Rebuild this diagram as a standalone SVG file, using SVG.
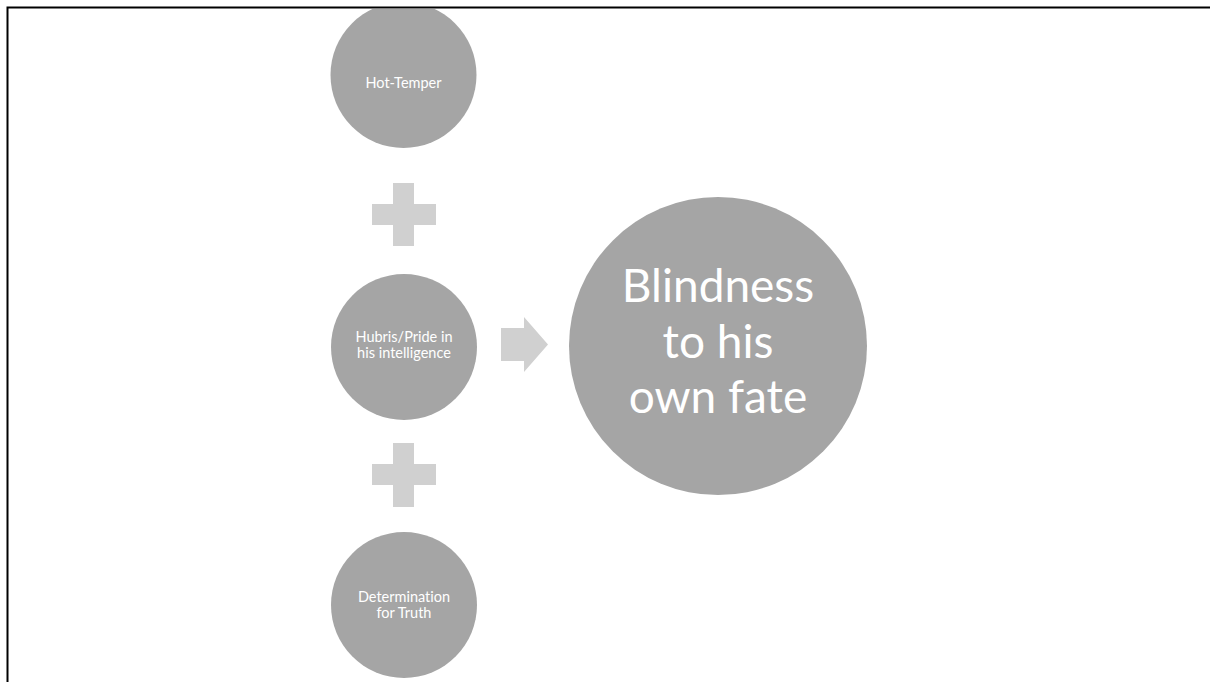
<svg xmlns="http://www.w3.org/2000/svg" width="1210" height="682" viewBox="0 0 1210 682">
<style>
.c{fill:#a5a5a5}
.op{fill:#d0d0d0}
.t{fill:#ffffff;font-family:Lato,"Open Sans",sans-serif;text-anchor:middle;font-variant-ligatures:none}
.s{font-size:14.5px}
.b{font-size:46px}
.frame{stroke:#000;stroke-width:2;fill:none}
</style>
<defs>
<clipPath id="clipTop"><rect x="0" y="9" width="1210" height="673"/></clipPath>
</defs>
<rect width="1210" height="682" fill="#fff"/>
<g id="frame"><path class="frame" d="M1210 7.5 H7.5 V682"/></g>
<g id="node-hot-temper">
<circle class="c" cx="403.5" cy="75" r="73" clip-path="url(#clipTop)"/>
<text class="t s" x="403.5" y="88">Hot-Temper</text>
</g>
<g id="node-hubris">
<circle class="c" cx="404" cy="347" r="73"/>
<text class="t s" x="404" y="342">Hubris/Pride in</text>
<text class="t s" x="404" y="358">his intelligence</text>
</g>
<g id="node-determination">
<circle class="c" cx="404" cy="605" r="73"/>
<text class="t s" x="404" y="602">Determination</text>
<text class="t s" x="404" y="618">for Truth</text>
</g>
<g id="node-blindness">
<circle class="c" cx="718" cy="346" r="149"/>
<text class="t b" x="718" y="302">Blindness</text>
<text class="t b" x="718" y="358">to his</text>
<text class="t b" x="718" y="413">own fate</text>
</g>
<g id="connectors">
<path class="op" d="M393 183 H414 V204 H436 V225 H414 V246 H393 V225 H372 V204 H393 Z"/>
<path class="op" d="M393 443 H414 V464 H436 V485 H414 V507 H393 V485 H372 V464 H393 Z"/>
<path class="op" d="M501 328 H524 V317 L548 344.5 L524 372 V361 H501 Z"/>
</g>
</svg>
